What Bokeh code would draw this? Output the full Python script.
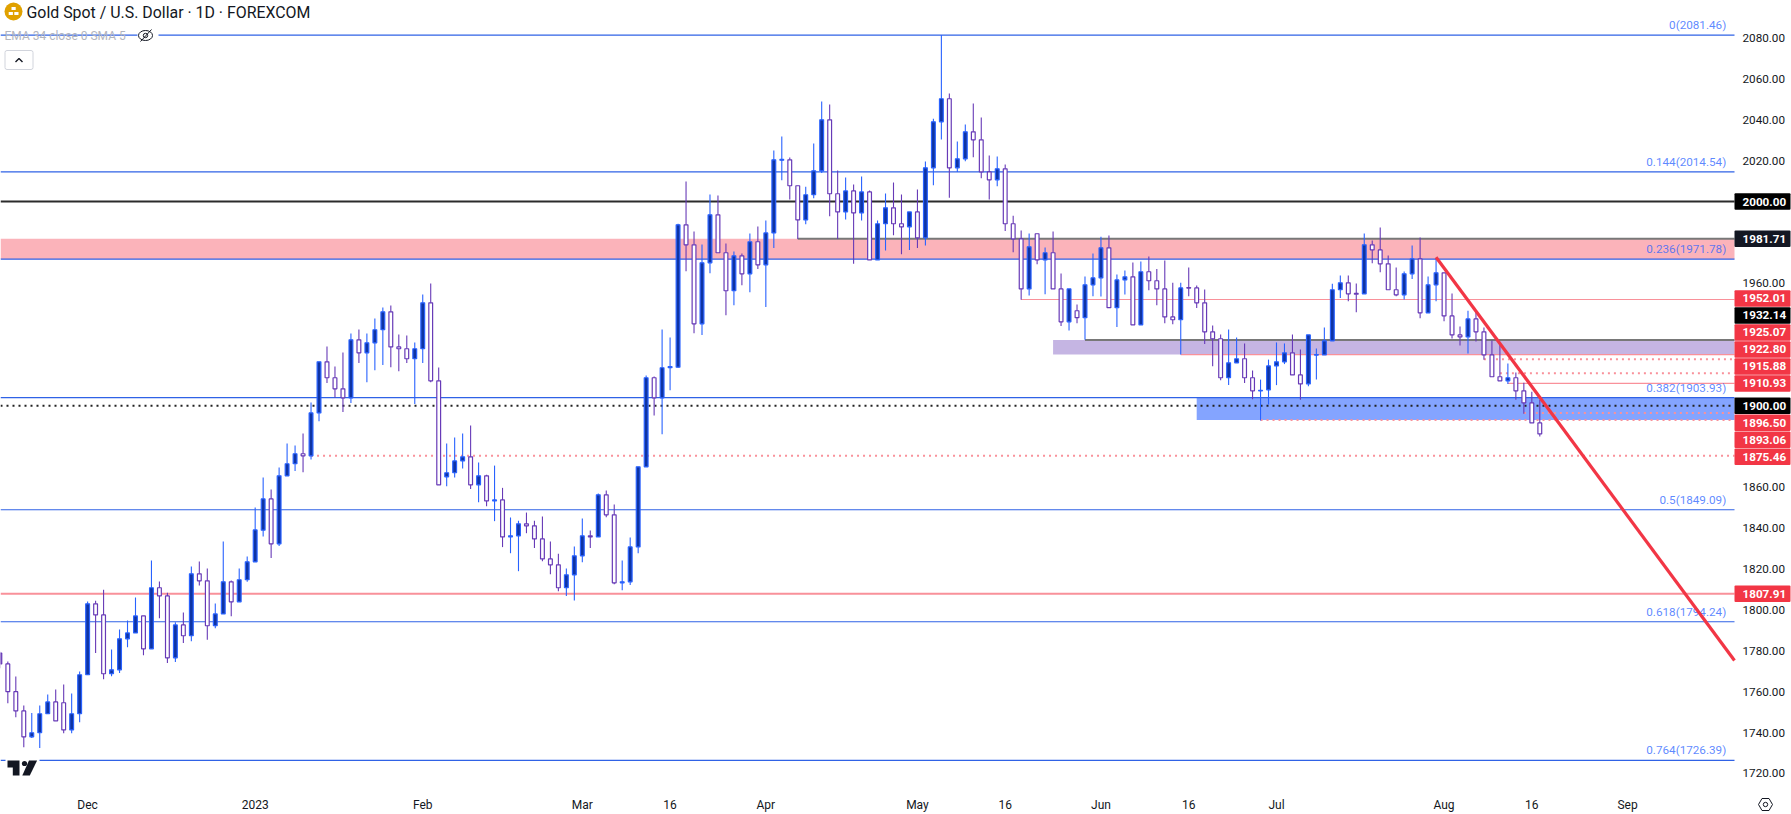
from bokeh.plotting import figure
from bokeh.models import ColumnDataSource, FixedTicker
from bokeh.core.properties import value
from bokeh.embed import file_html
from bokeh.resources import INLINE

# ---------- chart values (first entry is the bar cut by the left edge) ----------
opens = [1778.9,1773.6,1760.0,1750.6,1737.9,1739.9,1749.2,1755.0,1754.6,1741.3,1749.2,
1768.3,1803.0,1797.6,1768.8,1770.7,1785.9,1788.8,1797.1,1781.0,1810.9,
1806.9,1776.6,1792.7,1787.4,1817.7,1814.3,1792.3,1798.1,1813.8,1804.0,
1814.8,1823.6,1839.1,1854.4,1832.4,1865.7,1871.6,1876.5,1875.5,1896.5,
1921.5,1913.7,1908.3,1903.9,1932.3,1925.9,1930.8,1937.2,1946.0,1928.8,
1927.9,1923.0,1927.9,1950.4,1912.2,1865.2,1867.2,1873.0,1875.0,1861.3,
1865.7,1853.4,1853.9,1835.8,1836.3,1842.2,1841.2,1834.8,1825.0,1822.1,
1810.9,1817.2,1826.5,1836.3,1835.8,1856.4,1846.6,1813.3,1813.8,1830.9,
1870.1,1913.7,1903.9,1918.6,1918.9,1988.6,1978.8,1940.1,1970.0,1993.5,
1974.9,1956.3,1973.4,1964.6,1980.3,1969.0,1984.6,2020.2,2020.4,2007.7,
1991.0,2003.3,2015.0,2040.0,2003.8,1994.9,2005.2,1994.4,2004.7,1971.4,
1989.1,1996.9,1989.1,1987.6,1994.9,1982.2,2016.5,2039.0,2050.3,2016.5,
2020.9,2034.1,2030.2,2014.5,2010.6,2016.0,1989.1,1981.7,1957.2,1984.2,
1971.4,1974.9,1957.2,1941.1,1946.5,1943.1,1959.2,1962.6,1977.3,1948.0,
1961.6,1963.1,1939.6,1965.6,1961.2,1957.2,1943.5,1942.1,1957.9,1957.7,
1950.4,1936.2,1932.8,1913.7,1921.0,1923.0,1913.7,1907.3,1907.8,1919.5,
1921.5,1925.9,1915.1,1910.7,1924.8,1924.9,1931.8,1956.8,1960.2,1955.0,
1954.8,1978.8,1976.3,1969.5,1956.8,1954.3,1964.6,1971.9,1945.5,1959.2,
1965.1,1944.0,1934.7,1933.7,1942.5,1936.2,1924.9,1914.2,1912.2,1913.7,
1907.3,1901.4,1891.6]
closes = [1773.6,1760.0,1750.6,1737.9,1739.9,1749.2,1755.0,1745.7,1741.3,1749.2,1768.3,
1803.0,1797.6,1768.8,1770.7,1785.9,1788.8,1797.1,1781.0,1810.9,1806.9,
1776.6,1792.7,1787.4,1817.7,1814.3,1792.3,1798.1,1813.8,1804.0,1814.8,
1823.6,1839.2,1854.4,1832.4,1865.7,1871.6,1876.5,1875.5,1896.5,1921.5,
1913.7,1908.3,1903.9,1932.3,1925.9,1930.8,1937.2,1946.0,1928.8,1927.9,
1923.0,1927.9,1950.4,1912.2,1861.3,1867.2,1873.0,1875.0,1861.3,1865.7,
1853.4,1853.9,1835.8,1836.3,1842.2,1841.2,1834.8,1825.0,1822.1,1810.9,
1817.2,1826.5,1836.3,1835.8,1856.4,1846.6,1813.3,1813.8,1830.9,1870.1,
1913.7,1903.9,1918.6,1919.2,1988.6,1978.8,1940.1,1970.0,1993.5,1974.9,
1956.3,1973.4,1964.6,1980.3,1969.0,1984.6,2020.4,2020.6,2007.7,1991.0,
2003.3,2015.0,2040.0,2003.8,1994.9,2005.2,1994.4,2004.7,1971.4,1989.1,
1996.9,1989.1,1987.6,1994.9,1982.2,2016.5,2039.0,2050.3,2016.5,2020.9,
2034.1,2030.2,2014.5,2010.6,2016.0,1989.1,1981.7,1957.2,1977.8,1971.4,
1974.9,1957.2,1941.1,1957.2,1943.1,1959.2,1962.6,1977.3,1948.0,1961.6,
1963.1,1939.6,1965.6,1961.2,1957.2,1943.5,1942.1,1957.7,1957.6,1950.4,
1936.2,1932.8,1913.7,1921.0,1923.0,1913.7,1907.3,1907.6,1919.5,1921.5,
1925.9,1915.1,1910.7,1934.7,1925.1,1931.8,1956.8,1960.2,1954.8,1954.6,
1978.8,1976.3,1969.5,1956.8,1954.3,1964.6,1971.9,1945.5,1959.2,1965.1,
1944.0,1934.7,1933.7,1942.5,1936.2,1924.9,1914.2,1912.2,1913.7,1907.3,
1901.4,1891.6,1886.2]
highs = [1779.5,1774.8,1767.4,1753.3,1749.6,1753.3,1758.6,1761.1,1763.5,1759.1,1769.9,
1804.2,1804.5,1809.9,1780.6,1790.5,1794.9,1806.1,1797.1,1824.2,1813.9,
1808.4,1794.0,1798.8,1821.3,1823.8,1820.3,1803.2,1833.5,1814.4,1820.3,
1826.2,1850.2,1864.9,1859.0,1869.8,1881.5,1880.5,1886.4,1901.6,1921.5,
1929.0,1919.2,1926.1,1935.4,1937.3,1935.4,1942.7,1948.1,1949.1,1934.9,
1934.4,1931.0,1954.5,1959.9,1918.7,1881.5,1884.5,1886.4,1890.3,1872.2,
1866.2,1870.7,1859.8,1845.3,1843.7,1847.7,1843.7,1845.8,1833.5,1827.5,
1820.3,1831.1,1844.8,1838.9,1857.0,1858.5,1851.7,1824.2,1835.5,1870.1,
1914.8,1914.3,1937.3,1933.4,1989.1,2009.8,1985.3,1978.9,2003.4,2002.9,
1979.4,1975.5,1974.5,1984.3,1987.8,1990.7,2025.0,2031.8,2021.5,2007.7,
2007.2,2028.4,2048.9,2047.5,2015.2,2011.7,2008.3,2012.2,2005.4,1990.7,
2003.9,2009.3,2003.4,1994.9,2005.9,2019.6,2040.5,2081.46,2052.9,2029.4,
2037.7,2048.0,2041.1,2022.5,2022.0,2018.1,1993.0,1985.8,1984.3,1984.2,
1977.5,1985.3,1964.8,1957.2,1949.6,1963.3,1974.5,1982.7,1983.4,1964.3,
1966.2,1970.1,1970.6,1973.1,1967.0,1971.1,1960.2,1960.2,1967.7,1958.9,
1956.9,1939.3,1934.9,1937.3,1933.4,1930.5,1917.3,1912.8,1922.6,1931.0,
1930.5,1934.9,1927.5,1934.7,1928.0,1938.3,1959.7,1963.8,1963.8,1959.9,
1984.3,1980.9,1987.3,1973.6,1967.7,1965.7,1978.5,1982.4,1963.3,1972.4,
1965.1,1955.0,1938.8,1946.5,1946.5,1938.3,1931.9,1930.3,1920.7,1916.3,
1911.2,1906.8,1902.9]
lows = [1771.5,1754.4,1747.5,1732.8,1737.3,1732.4,1749.2,1745.7,1739.7,1739.7,1745.1,
1768.3,1778.9,1766.1,1767.6,1769.1,1781.8,1788.8,1777.9,1781.0,1796.0,
1774.0,1774.5,1783.8,1784.7,1812.0,1785.4,1791.1,1798.1,1797.0,1804.0,
1813.8,1823.6,1836.0,1825.4,1831.3,1865.7,1868.0,1867.5,1873.7,1892.4,
1911.1,1903.9,1896.9,1901.3,1920.9,1911.5,1917.4,1919.9,1918.9,1916.9,
1920.9,1900.8,1920.9,1911.5,1861.3,1860.6,1864.9,1869.3,1859.2,1852.8,
1850.8,1843.5,1830.8,1827.8,1819.0,1837.6,1830.3,1823.9,1817.5,1809.2,
1806.8,1804.6,1823.4,1830.3,1835.8,1845.4,1812.6,1809.7,1812.2,1827.8,
1870.1,1895.2,1886.1,1907.6,1918.6,1965.9,1935.5,1934.6,1964.9,1974.9,
1944.3,1949.2,1959.0,1955.6,1967.0,1948.3,1977.2,2010.4,2001.0,1981.7,
1988.9,2001.6,2013.9,1992.8,1981.7,1991.2,1969.5,1990.7,1971.4,1971.4,
1976.0,1983.5,1974.2,1976.2,1977.2,1978.5,2008.0,2030.4,2001.8,2014.5,
2019.7,2021.7,2011.4,2001.0,2007.5,1985.5,1975.2,1951.9,1954.0,1969.3,
1954.6,1957.2,1939.0,1936.8,1940.4,1932.3,1953.6,1953.5,1948.0,1938.5,
1954.5,1939.6,1939.6,1956.6,1949.2,1940.4,1939.9,1925.1,1953.6,1947.8,
1930.2,1919.4,1912.5,1910.1,1921.0,1911.1,1903.2,1892.8,1900.6,1910.1,
1920.4,1915.1,1902.9,1909.6,1912.9,1924.9,1931.8,1952.7,1951.2,1945.8,
1954.8,1969.8,1965.4,1956.8,1953.65,1952.0,1962.0,1942.9,1945.5,1951.2,
1941.4,1932.9,1929.5,1925.6,1931.4,1922.5,1914.2,1912.2,1910.7,1902.9,
1896.1,1891.6,1884.9]

fib_levels = [2081.46, 2014.54, 1971.78, 1903.93, 1849.09, 1794.24, 1726.39]
fib_names = ["0(2081.46)", "0.144(2014.54)", "0.236(1971.78)", "0.382(1903.93)",
             "0.5(1849.09)", "0.618(1794.24)", "0.764(1726.39)"]

y_ticks = [2100, 2080, 2060, 2040, 2020, 1960, 1860, 1840, 1820, 1800, 1780, 1760, 1740, 1720]
x_tick_bars = [-1, 10, 31, 52, 72, 83, 95, 114, 125, 137, 148, 159, 180, 191, 203]
x_tick_names = ["16", "Dec", "2023", "Feb", "Mar", "16", "Apr", "May", "16", "Jun", "16", "Jul", "Aug", "16", "Sep"]

solid_levels = [1952.01, 1925.07, 1910.93]
solid_starts = [127, 147, 188]
dotted_levels = [1922.80, 1915.88, 1896.50, 1893.06, 1875.46]
dotted_starts = [185, 187, 190, 157, 38]
gray_levels = [1981.71, 1932.14]
gray_starts = [99, 135]
trend_bars = [179, 216.4]
trend_prices = [1972.7, 1775.3]

tag_texts = ["2000.00", "1981.71", "1952.01", "1932.14", "1925.07", "1922.80", "1915.88",
             "1910.93", "1900.00", "1896.50", "1893.06", "1875.46", "1807.91"]
tag_prices = [2000.00, 1981.71, 1952.01, 1932.14, 1925.07, 1922.80, 1915.88,
              1910.93, 1900.00, 1896.50, 1893.06, 1875.46, 1807.91]
tag_colors = ["#000000", "#131722", "#f23645", "#000000", "#f23645", "#f23645", "#f23645",
              "#f23645", "#000000", "#f23645", "#f23645", "#f23645", "#f23645"]

# ---------- scale of the picture ----------
W, H = 1791, 814
X0, DX = 7.33, 7.979          # page x of bar 0, page px per bar
PXU = 2.0425                  # page px per dollar
AXR, AXB = 1734, 790          # where the price and time scales sit
TAG_H = 17.0

def xd(px):
    return (px - X0) / DX

def yd(py):
    return 2000 - (py - 201) / PXU

BLUE = "#2962ff"
FIBLINE = "#2f62e6"
PURPLE = "#673ab7"
PINK = "#f9919a"
DARK = "#131722"
FONT = value("Roboto")

p = figure(width=W, height=H, output_backend="svg", toolbar_location=None,
           x_range=(xd(0), xd(W)), y_range=(yd(H), yd(0)), x_axis_location="below", y_axis_location="right",
           min_border=0, background_fill_color="white", border_fill_color="white", outline_line_color=None)
p.grid.visible = False

yax = p.yaxis[0]
yax.fixed_location = xd(AXR)
yax.ticker = FixedTicker(ticks=y_ticks)
yax.major_label_overrides = {t: f"{t:.2f}" for t in y_ticks}
yax.axis_line_color = None
yax.major_tick_line_color = None
yax.minor_tick_line_color = None
yax.major_tick_out = 0
yax.major_tick_in = 0
yax.major_label_standoff = 8
yax.major_label_text_font = "Roboto"
yax.major_label_text_font_size = "11.7px"
yax.major_label_text_color = DARK

xax = p.xaxis[0]
xax.fixed_location = yd(AXB)
xax.ticker = FixedTicker(ticks=x_tick_bars)
xax.major_label_overrides = dict(zip(x_tick_bars, x_tick_names))
xax.axis_line_color = None
xax.major_tick_line_color = None
xax.minor_tick_line_color = None
xax.major_tick_out = 0
xax.major_tick_in = 0
xax.major_label_standoff = 7
xax.major_label_text_font = "Roboto"
xax.major_label_text_font_size = "12px"
xax.major_label_text_color = DARK

XS, XE = xd(0), xd(AXR)
# zones
zone_l = [XS, 131, 149]
zone_t = [1981.71, 1932.14, 1903.93]
zone_b = [1971.78, 1925.07, 1893.06]
zone_c = ["#fbb3ba", "#c5b5e3", "#84a4ff"]
p.quad(left=zone_l, right=[XE] * 3, top=zone_t, bottom=zone_b, fill_color=zone_c, line_color=None)

# horizontal levels
p.segment(x0=[XS] * len(fib_levels), x1=[XE] * len(fib_levels), y0=fib_levels, y1=fib_levels,
          line_color=FIBLINE, line_width=1.2)
p.segment(x0=[XS], x1=[XE], y0=[2000.0], y1=[2000.0], line_color="#2b2b2b", line_width=2)
p.segment(x0=[XS], x1=[XE], y0=[1807.91], y1=[1807.91], line_color=PINK, line_width=2)
p.segment(x0=[XS], x1=[XE], y0=[1900.0], y1=[1900.0], line_color="#222222", line_width=2, line_dash="2 4")
p.segment(x0=solid_starts, x1=[XE] * 3, y0=solid_levels, y1=solid_levels, line_color=PINK, line_width=1.2)
p.segment(x0=dotted_starts, x1=[XE] * 5, y0=dotted_levels, y1=dotted_levels, line_color=PINK, line_width=2,
          line_dash="2 4")
p.segment(x0=gray_starts, x1=[XE] * 2, y0=gray_levels, y1=gray_levels, line_color="#787878", line_width=2)

# candles
bars = list(range(-1, len(opens) - 1))
up = [c >= o for o, c in zip(opens, closes)]
src = ColumnDataSource(dict(
    x=bars, top=[max(o, c) for o, c in zip(opens, closes)], bottom=[min(o, c) for o, c in zip(opens, closes)],
    high=highs, low=lows,
    edge=[BLUE if u else PURPLE for u in up],
    fill=["#0f34a3" if u else "#ffffff" for u in up]))
p.segment(x0="x", x1="x", y0="high", y1="low", line_color="edge", line_width=1.1, source=src)
p.vbar(x="x", width=3.8 / DX, top="top", bottom="bottom", fill_color="fill", line_color="edge", line_width=1.2,
       source=src)

# fib labels
p.text(x=[xd(1725.7)] * len(fib_levels), y=fib_levels, text=fib_names, text_align="right", text_baseline="middle",
       y_offset=-10, text_font=FONT, text_font_size="11.7px", text_color=BLUE, text_alpha=0.75)

# trend line
p.line(trend_bars, trend_prices, line_color="#f23645", line_width=3.2)

# header
p.circle(x=[xd(13)], y=[yd(11)], radius=9, radius_units="screen", fill_color="#e0a100", line_color=None)
p.quad(left=[xd(8.2), xd(13.8), xd(11)], right=[xd(12.4), xd(18), xd(15.2)], top=[yd(11.5), yd(11.5), yd(6.5)],
       bottom=[yd(14.5), yd(14.5), yd(9.5)], fill_color="white", line_color=None)
p.text(x=[xd(26)], y=[yd(11.5)], text=["Gold Spot / U.S. Dollar · 1D · FOREXCOM"], text_baseline="middle",
       text_font=FONT, text_font_size="15.9px", text_color=DARK)
p.text(x=[xd(4)], y=[yd(35)], text=["EMA 34 close 0 SMA 5"], text_baseline="middle", text_font=FONT,
       text_font_size="12px", text_color="#b2b5be")
p.quad(left=[xd(137)], right=[xd(158)], top=[yd(30)], bottom=[yd(40)], fill_color="white", line_color=None)
p.ellipse(x=[xd(145)], y=[yd(35)], width=14 / DX, height=10 / PXU, fill_color=None, line_color=DARK, line_width=1)
p.segment(x0=[xd(140)], x1=[xd(151)], y0=[yd(41)], y1=[yd(29)], line_color=DARK, line_width=1)
p.circle(x=[xd(145)], y=[yd(35)], radius=2.2, radius_units="screen", fill_color=None, line_color=DARK)

# collapse button
p.quad(left=[xd(4.5)], right=[xd(32.5)], top=[yd(50)], bottom=[yd(69)], fill_color="white", line_color="#d1d4dc",
       border_radius=2)
p.line([xd(15), xd(18.5), xd(22)], [yd(61.5), yd(58), yd(61.5)], line_color=DARK, line_width=1.4)

# TradingView mark
p.quad(left=[xd(5)], right=[xd(39)], top=[yd(757)], bottom=[yd(778)], fill_color="white", line_color=None)
p.patch([xd(7), xd(19), xd(19), xd(12.3), xd(12.3), xd(7)], [yd(760), yd(760), yd(775), yd(775), yd(767), yd(767)],
        fill_color=DARK, line_color=None)
p.circle(x=[xd(24)], y=[yd(763)], radius=2.6, radius_units="screen", fill_color=DARK, line_color=None)
p.patch([xd(28.5), xd(36.6), xd(29.3), xd(21.8)], [yd(760), yd(760), yd(775), yd(775)], fill_color=DARK, line_color=None)

# price tags: neighbours push each other apart, one tag height at a time
display = list(tag_prices)
for i in range(6, 1, -1):
    display[i] = display[i + 1] + TAG_H / PXU
for i in range(9, 12):
    display[i] = display[i - 1] - TAG_H / PXU
p.quad(left=[XE] * len(display), right=[xd(1790)] * len(display),
       top=[v + (TAG_H - 0.5) / 2 / PXU for v in display], bottom=[v - (TAG_H - 0.5) / 2 / PXU for v in display],
       fill_color=tag_colors, line_color=None, border_radius=1)
p.text(x=[xd(1742)] * len(display), y=display, text=tag_texts, text_color="white", text_font=FONT,
       text_font_size="11.7px", text_font_style="bold", text_baseline="middle")

# settings icon
gx, gy = 1765, 804
p.patch([xd(gx + d) for d in (-7, -3.5, 3.5, 7, 3.5, -3.5)], [yd(gy + d) for d in (0, -6, -6, 0, 6, 6)],
        fill_color="white", line_color=DARK, line_width=1)
p.circle(x=[xd(gx)], y=[yd(gy)], radius=2.2, radius_units="screen", fill_color="white", line_color=DARK, line_width=1)

open("out.html", "w").write(file_html(p, INLINE))
